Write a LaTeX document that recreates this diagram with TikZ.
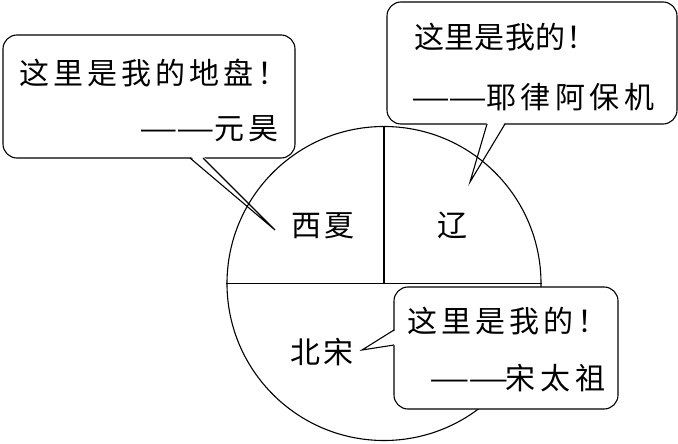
\documentclass[tikz,border=0pt]{standalone}
\usepackage{fontspec}
\usepackage{graphicx}
\usetikzlibrary{calc}
\newfontfamily\cjk{Noto Sans CJK SC}
\makeatletter
\newcommand\lsp[2]{\def\lsp@k{#1}\@tfor\lsp@c:=#2\do{\lsp@c\kern\lsp@k}}
\makeatother
\newcommand\ddash[1]{\resizebox{#1}{\height}{—\kern-1.5pt—}}
\tikzset{
  bubble/.style={draw, fill=white, rounded corners=14pt, line width=1.1pt, inner sep=0pt},
  txt/.style={inner sep=0pt, anchor=base west},
  ln/.style={line width=1.1pt, line join=miter},
}
\begin{document}
\begin{tikzpicture}[x=1pt, y=-1pt, font=\cjk\fontsize{30}{36}\selectfont]
\useasboundingbox[fill=white] (0,0) rectangle (678,444);

% bubble 1
\node[bubble, minimum width=292pt, minimum height=123pt] (b1) at (149,96.5) {};
\coordinate (t1) at (275,230);
\coordinate (p1a) at (190,158);
\coordinate (p1b) at (203,158);
\fill[white] ($(p1a)+(0,-2)$) -- ($(p1b)+(0,-2)$) -- (t1) -- cycle;
\draw[ln] (p1a) -- (t1) -- (p1b);
\node[txt] (b1l1) at (19.5,84.5) {\lsp{4pt}{这里是我的地盘！}};
\node[txt] (b1l2) at (139.5,139.5) {\ddash{75pt}\kern-0.5pt\lsp{4pt}{元昊}};

% bubble 2
\node[bubble, minimum width=290pt, minimum height=122pt] (b2) at (532,63) {};
\coordinate (t2) at (470,182);
\coordinate (p2a) at (487,124);
\coordinate (p2b) at (505,124);
\fill[white] ($(p2a)+(0,-2)$) -- ($(p2b)+(0,-2)$) -- (t2) -- cycle;
\draw[ln] (p2a) -- (t2) -- (p2b);
\node[txt] (b2l1) at (413.8,49) {\lsp{0.5pt}{这里是我的！}};
\node[txt] (b2l2) at (411.5,109) {\ddash{76pt}\kern-1.5pt\lsp{4.5pt}{耶律阿保机}};

% map
\node[circle, draw, line width=1.1pt, minimum size=314pt, inner sep=0pt] (map) at (384,283.5) {};
\draw[ln] (map.west) -- (map.east);
\draw[ln] (map.north) -- (map.center);
\node[txt] (xx) at (291,236) {\lsp{3pt}{西夏}};
\node[txt] (liao) at (437,236) {辽};
\node[txt] (bs) at (290,363.5) {\lsp{3pt}{北宋}};

% bubble 3
\node[bubble, minimum width=224pt, minimum height=122pt] (b3) at (506,348) {};
\coordinate (t3) at (362,350);
\coordinate (p3a) at (394,330);
\coordinate (p3b) at (394,345);
\fill[white] ($(p3a)+(2,0)$) -- ($(p3b)+(2,0)$) -- (t3) -- cycle;
\draw[ln] (p3a) -- (t3) -- (p3b);
\node[txt] (b3l1) at (407,332.5) {\lsp{4pt}{这里是我的！}};
\node[txt] (b3l2) at (429.5,389.5) {\ddash{79pt}\kern-3pt\lsp{5pt}{宋太祖}};
\end{tikzpicture}
\end{document}
